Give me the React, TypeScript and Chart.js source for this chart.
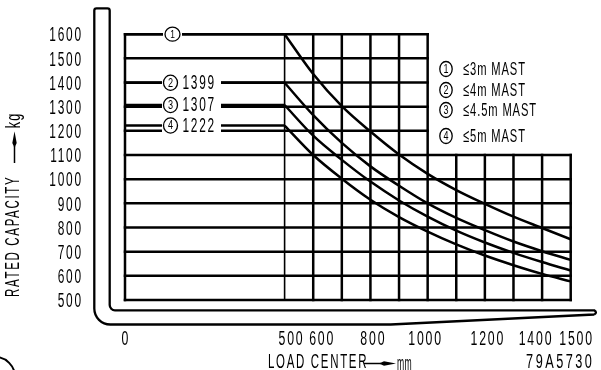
import React, { useEffect, useRef } from 'react';
import { Chart, registerables, LinearScale } from 'chart.js';

// ---------- data ----------
const loadCenters = [500, 600, 700, 800, 900, 1000, 1100, 1200, 1300, 1400, 1500];
const mast3m = [1600, 1435, 1302, 1197, 1102, 1022, 955, 898, 845, 798, 751];
const mast4m = [1399, 1265, 1150, 1053, 973, 900, 840, 789, 742, 702, 666];
const mast45m = [1307, 1180, 1080, 990, 912, 845, 787, 738, 695, 657, 622];
const mast5m = [1222, 1100, 1002, 915, 843, 783, 730, 684, 644, 608, 577];
const maxCapacities = [1600, 1399, 1307, 1222];
const seriesMarks = ['1', '2', '3', '4'];
const legendLabels = ['≤3m MAST', '≤4m MAST', '≤4.5m MAST', '≤5m MAST'];
const yTicks = [500, 600, 700, 800, 900, 1000, 1100, 1200, 1300, 1400, 1500, 1600];
const xTicks = [0, 500, 600, 800, 1000, 1200, 1400, 1500];
const gridXFull = [0, 500, 600, 700, 800, 900, 1000];
const gridXLow = [1100, 1200, 1300, 1400, 1500];
const gridYLow = [500, 600, 700, 800, 900, 1000, 1100];
const gridYHigh = [1200, 1300, 1400, 1500, 1600];
const xTitle = 'LOAD CENTER';
const xUnit = 'mm';
const yTitle = 'RATED CAPACITY';
const yUnit = 'kg';
const drawingNo = '79A5730';

// ---------- broken (piecewise linear) x scale ----------
const BREAK = 500;
const SPLIT = 0.3581;

class BrokenScale extends LinearScale {
  static id = 'broken';
  static defaults = { ...(LinearScale as any).defaults };
  getPixelForValue(value: number) {
    const s: any = this;
    const left = s.left, right = s.right;
    const split = left + (right - left) * SPLIT;
    if (value <= BREAK) return left + ((value - s.min) / (BREAK - s.min)) * (split - left);
    return split + ((value - BREAK) / (s.max - BREAK)) * (right - split);
  }
  getValueForPixel(pixel: number) {
    const s: any = this;
    const left = s.left, right = s.right;
    const split = left + (right - left) * SPLIT;
    if (pixel <= split) return s.min + ((pixel - left) / (split - left)) * (BREAK - s.min);
    return BREAK + ((pixel - split) / (right - split)) * (s.max - BREAK);
  }
}

Chart.register(...registerables, BrokenScale as any);

const FONT = '"Liberation Sans", Arial, sans-serif';

function txt(
  ctx: CanvasRenderingContext2D, s: string, x: number, y: number, size: number, sx: number,
  align: CanvasTextAlign = 'left', rot = 0, ls = 0, weight = 'normal'
) {
  ctx.save();
  ctx.translate(x, y);
  if (rot) ctx.rotate(rot);
  ctx.scale(sx, 1);
  ctx.font = `${weight} ${size}px ${FONT}`;
  (ctx as any).letterSpacing = `${ls}px`;
  ctx.textAlign = 'left';
  ctx.textBaseline = 'middle';
  ctx.fillStyle = '#000';
  // measure without trailing spacing for alignment
  const w = ctx.measureText(s).width - ls;
  let x0 = 0;
  if (align === 'center') x0 = -w / 2;
  else if (align === 'right') x0 = -w;
  ctx.fillText(s, x0, 0);
  ctx.restore();
}

function circled(ctx: CanvasRenderingContext2D, d: string, cx: number, cy: number, rx: number, ry: number) {
  ctx.save();
  ctx.beginPath();
  ctx.ellipse(cx, cy, rx, ry, 0, 0, Math.PI * 2);
  ctx.fillStyle = '#fff';
  ctx.fill();
  ctx.lineWidth = 1.3;
  ctx.strokeStyle = '#000';
  ctx.stroke();
  ctx.restore();
  txt(ctx, d, cx, cy + 0.5, ry * 1.6, 0.75, 'center');
}

// small hand-placement nudges of the x tick labels, as on the drawing
const X_LABEL_NUDGE: Record<number, number> = { 500: 6, 600: 8, 800: 2, 1000: -3, 1200: 2, 1400: -7, 1500: 5 };

const decorPlugin = {
  id: 'decor',
  beforeDraw(chart: any) {
    const ctx: CanvasRenderingContext2D = chart.ctx;
    const { left, right, bottom } = chart.chartArea;
    ctx.save();
    ctx.strokeStyle = '#000';
    ctx.lineWidth = 2.3;
    ctx.lineJoin = 'round';
    // fork outline
    const ox = left - 30.7, ix = left - 15.3, topY = 8.3;
    const innerY = bottom + 10.3, outerY = bottom + 24.5;
    const tipX = right + 23.5;
    ctx.beginPath();
    ctx.moveTo(tipX, outerY - 10);
    ctx.lineTo(right - 180, outerY);
    ctx.lineTo(ox + 16, outerY);
    ctx.arcTo(ox, outerY, ox, outerY - 16, 16);
    ctx.lineTo(ox, topY + 2.2);
    ctx.arcTo(ox, topY, ox + 2.2, topY, 2.2);
    ctx.lineTo(ix - 2.2, topY);
    ctx.arcTo(ix, topY, ix, topY + 2.2, 2.2);
    ctx.lineTo(ix, innerY - 5.3);
    ctx.arcTo(ix, innerY, ix + 5.3, innerY, 5.3);
    ctx.lineTo(tipX, innerY);
    ctx.quadraticCurveTo(tipX + 3.5, innerY + 2.1, tipX, outerY - 10);
    ctx.stroke();
    // partial circle symbol, bottom-left
    ctx.lineWidth = 2;
    ctx.beginPath();
    ctx.arc(-5, 377, 20, -Math.PI / 2, 0.2);
    ctx.stroke();
    ctx.restore();
  },
  beforeDatasetsDraw(chart: any) {
    const ctx: CanvasRenderingContext2D = chart.ctx;
    const xs = chart.scales.x, ys = chart.scales.y;
    ctx.save();
    ctx.strokeStyle = '#000';
    ctx.lineCap = 'square';
    const hline = (v: number, x0: number, x1: number, w: number) => {
      ctx.lineWidth = w;
      ctx.beginPath();
      const y = ys.getPixelForValue(v);
      ctx.moveTo(xs.getPixelForValue(x0), y);
      ctx.lineTo(xs.getPixelForValue(x1), y);
      ctx.stroke();
    };
    const vline = (v: number, y0: number, y1: number, w: number) => {
      ctx.lineWidth = w;
      ctx.beginPath();
      const x = xs.getPixelForValue(v);
      ctx.moveTo(x, ys.getPixelForValue(y0));
      ctx.lineTo(x, ys.getPixelForValue(y1));
      ctx.stroke();
    };
    gridYLow.forEach((v) => hline(v, 0, 1500, 2.5));
    gridYHigh.forEach((v) => hline(v, 0, 1000, 2.5));
    gridXFull.forEach((v) => vline(v, 500, 1600, v === 500 ? 1.6 : 2.5));
    gridXLow.forEach((v) => vline(v, 500, 1100, 2.5));
    ctx.restore();
  },
  afterDatasetsDraw(chart: any) {
    const ctx: CanvasRenderingContext2D = chart.ctx;
    const xs = chart.scales.x, ys = chart.scales.y;
    const { left, bottom } = chart.chartArea;
    // labels on the max-capacity lines
    maxCapacities.forEach((c, i) => {
      const y = ys.getPixelForValue(c);
      ctx.save();
      ctx.fillStyle = '#fff';
      if (i === 0) {
        ctx.fillRect(left + 38, y - 8, 19, 16);
        ctx.restore();
        circled(ctx, seriesMarks[i], left + 47.5, y, 7.5, 7);
      } else {
        ctx.fillRect(left + 37, y - 9, 59, 18);
        ctx.restore();
        circled(ctx, seriesMarks[i], left + 45.5, y, 7, 7.6);
        txt(ctx, String(c), left + 57.5, y + 0.5, 20.5, 0.58, 'left', 0, 3);
      }
    });
    // y tick labels
    yTicks.forEach((t) => {
      txt(ctx, String(t), left - 44, ys.getPixelForValue(t) + 1.5, 20.5, 0.58, 'right', 0, 3);
    });
    // x tick labels
    xTicks.forEach((t) => {
      txt(ctx, String(t), xs.getPixelForValue(t) + (X_LABEL_NUDGE[t] || 0), bottom + 39, 20.5, 0.6, 'center', 0, 3);
    });
    // legend block
    const legY = [69, 90, 110, 136];
    legendLabels.forEach((l, i) => {
      circled(ctx, seriesMarks[i], 446, legY[i], 6.2, 7.5);
      txt(ctx, l, 463, legY[i] + 0.5, 18.6, 0.6, 'left', 0, 1.5);
    });
    // x title with arrow
    txt(ctx, xTitle, 268, 362.5, 20.5, 0.56, 'left', 0, 3);
    ctx.save();
    ctx.strokeStyle = '#000';
    ctx.fillStyle = '#000';
    ctx.lineWidth = 1.5;
    ctx.beginPath();
    ctx.moveTo(364, 363.5);
    ctx.lineTo(381, 363.5);
    ctx.stroke();
    ctx.beginPath();
    ctx.moveTo(379, 363.5);
    ctx.lineTo(384, 361.3);
    ctx.lineTo(396, 363.5);
    ctx.lineTo(384, 365.7);
    ctx.closePath();
    ctx.fill();
    ctx.restore();
    txt(ctx, xUnit, 397, 364.5, 20.5, 0.42, 'left', 0, 1);
    // drawing number
    txt(ctx, drawingNo, 559, 362.5, 20.5, 0.62, 'center', 0, 4);
    // y title with arrow
    txt(ctx, yTitle, 13.5, 297, 20.5, 0.56, 'left', -Math.PI / 2, 3);
    ctx.save();
    ctx.strokeStyle = '#000';
    ctx.fillStyle = '#000';
    ctx.lineWidth = 1.5;
    ctx.beginPath();
    ctx.moveTo(14.5, 163);
    ctx.lineTo(14.5, 146);
    ctx.stroke();
    ctx.beginPath();
    ctx.moveTo(14.5, 148);
    ctx.lineTo(12.3, 143);
    ctx.lineTo(14.5, 131.5);
    ctx.lineTo(16.7, 143);
    ctx.closePath();
    ctx.fill();
    ctx.restore();
    txt(ctx, yUnit, 14.5, 128.3, 20.5, 0.62, 'left', -Math.PI / 2, 2);
  },
};

export default function App() {
  const ref = useRef<HTMLCanvasElement | null>(null);
  useEffect(() => {
    if (!ref.current) return;
    const curves = [mast3m, mast4m, mast45m, mast5m].map((vals, i) => ({
      label: legendLabels[i],
      data: loadCenters.map((x, j) => ({ x, y: vals[j] })),
      borderColor: '#000',
      borderWidth: 2.5,
      pointRadius: 0,
      cubicInterpolationMode: 'monotone' as const,
      fill: false,
    }));
    const flats = maxCapacities.map((c, i) => ({
      label: 'max ' + legendLabels[i],
      data: [{ x: 0, y: c }, { x: BREAK, y: c }],
      borderColor: '#000',
      borderWidth: 2.5,
      pointRadius: 0,
      tension: 0,
      fill: false,
    }));
    const chart = new Chart(ref.current, {
      type: 'line',
      data: { datasets: [...curves, ...flats] as any },
      options: {
        animation: false,
        responsive: false,
        devicePixelRatio: 1,
        layout: { padding: { left: 125, right: 30.3, top: 34.2, bottom: 70 } },
        plugins: { legend: { display: false }, tooltip: { enabled: false } },
        events: [],
        scales: {
          x: { type: 'broken' as any, min: 0, max: 1500, display: false },
          y: { type: 'linear', min: 500, max: 1600, display: false },
        },
      },
      plugins: [decorPlugin],
    });
    return () => chart.destroy();
  }, []);
  return (
    <div style={{ position: 'absolute', left: 0, top: 0, width: 601, height: 370, background: '#fff' }}>
      <canvas ref={ref} width={601} height={370} style={{ display: 'block' }} />
    </div>
  );
}
